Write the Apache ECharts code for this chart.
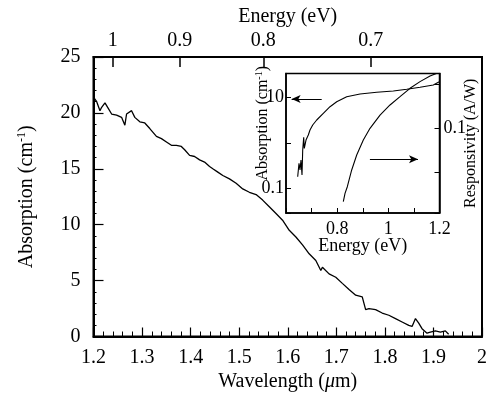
<!DOCTYPE html>
<html>
<head>
<meta charset="utf-8">
<script src="https://cdn.jsdelivr.net/npm/echarts@6/dist/echarts.min.js"></script>
<style>html,body{margin:0;padding:0;background:#fff}#c{width:490px;height:403px}</style>
</head>
<body>
<div id="c"></div>
<script>
// Main chart: absorption vs wavelength
const wavelength = [
  1.2, 1.2066, 1.2133, 1.2168, 1.2236, 1.2304, 1.2373, 1.2476, 1.2578, 1.2646,
  1.2681, 1.2784, 1.2851, 1.2954, 1.3056, 1.3159, 1.3296, 1.3399, 1.3502, 1.3604,
  1.3707, 1.3809, 1.3877, 1.3979, 1.4082, 1.4185, 1.4287, 1.439, 1.4457, 1.456,
  1.4663, 1.48, 1.4937, 1.5073, 1.521, 1.5348, 1.5483, 1.562, 1.5758, 1.5893,
  1.6031, 1.6168, 1.6304, 1.6441, 1.6578, 1.6681, 1.6714, 1.6851, 1.6989, 1.7124,
  1.7262, 1.7399, 1.7534, 1.7604, 1.7672, 1.7809, 1.7945, 1.8082, 1.8219, 1.8355,
  1.8492, 1.856, 1.863, 1.8697, 1.8765, 1.8868, 1.8937, 1.904, 1.9143, 1.9245,
  1.9313
];
const absorption = [
  21.4, 21.0, 20.2, 20.5, 20.9, 20.4, 19.9, 19.8, 19.6, 18.9,
  19.9, 20.2, 19.6, 19.2, 19.1, 18.6, 17.9, 17.7, 17.4, 17.1,
  17.1, 17.0, 16.7, 16.2, 16.1, 15.8, 15.6, 15.2, 15.0, 14.7,
  14.4, 14.1, 13.7, 13.2, 12.9, 12.7, 12.2, 11.6, 11.0, 10.4,
  9.5, 8.9, 8.2, 7.4, 6.8, 5.9, 6.2, 5.6, 5.3, 4.75,
  4.2, 3.7, 3.55, 2.4, 2.5, 2.4, 2.1, 1.9, 1.6, 1.3,
  1.0, 0.9, 1.6, 1.2, 0.7, 0.3, 0.4, 0.5, 0.4, 0.5,
  0.2
];
// Top axis tick labels (photon energy, eV); hc = 1.2398 eV·µm
const energyTicks = [1, 0.9, 0.8, 0.7];
const HC = 1.2398;

// Inset: absorption vs energy (left log axis)
const insetEnergyA = [0.6457, 0.6508, 0.6547, 0.6586, 0.6626, 0.6653, 0.6692, 0.6715, 0.6782, 0.6872,
  0.6938, 0.7044, 0.72, 0.7458, 0.772, 0.7982, 0.8373, 0.8893, 0.9546, 1.0195,
  1.0719, 1.1239, 1.1759, 1.1954, 1.2];
const insetAbs = [0.18, 0.356, 0.253, 0.422, 0.197, 0.70, 1.34, 0.76, 1.16, 1.50,
  1.94, 2.50, 3.22, 4.53, 6.33, 8.16, 10.5, 12.1, 13.2, 14.1,
  15.3, 17.0, 19.1, 21.9, 22.5];
// Inset: responsivity vs energy (right log axis)
const insetEnergyR = [0.824, 0.8307, 0.8397, 0.8568, 0.8764, 0.9022, 0.9284, 0.9675, 1.0066, 1.0457,
  1.0848, 1.1239, 1.163, 1.1954];
const responsivity = [0.00215, 0.00333, 0.00471, 0.0113, 0.0247, 0.0542, 0.1, 0.2, 0.339, 0.523,
  0.811, 1.15, 1.55, 1.84];
const insetLeftLabels = [10, 0.1];
const insetRightLabels = [0.1];
// Arrow annotations (data coordinates): [fromEnergy, toEnergy, value]
const arrowAbs = [0.7396, 0.622, 9.36];
const arrowResp = [0.928, 1.116, 0.0197];

const FONT = 'Liberation Serif';
const black = '#000';

function near(v, list) {
  return list.some(t => Math.abs(v - t) / t < 1e-6);
}

const chart = echarts.init(document.getElementById('c'), null, {renderer: 'canvas'});
const option = {
  animation: false,
  backgroundColor: '#fff',
  textStyle: {fontFamily: FONT, color: black},
  grid: [
    {left: 93.5, top: 57, right: 6.5, bottom: 66.5, show: true, borderColor: black, borderWidth: 2},
    {left: 286, top: 73.5, width: 153.5, height: 139.5, show: true, borderColor: black, borderWidth: 1.5, backgroundColor: '#fff'}
  ],
  xAxis: [
    {
      gridIndex: 0, type: 'value', position: 'bottom', min: 1.2, max: 2, interval: 0.1,
      axisLine: {show: true, onZero: false, lineStyle: {color: black, width: 2}},
      axisTick: {show: true, inside: true, length: 9, lineStyle: {color: black, width: 1.2}},
      minorTick: {show: true, splitNumber: 5, length: 5, lineStyle: {color: black, width: 1}},
      axisLabel: {margin: 11, fontSize: 20, fontFamily: FONT, color: black},
      splitLine: {show: false},
      name: '{a|Wavelength (}{m|μ}{a|m)}', nameLocation: 'middle', nameGap: 35, nameMoveOverlap: false,
      nameTextStyle: {rich: {
        a: {fontSize: 20, fontFamily: FONT, color: black},
        m: {fontSize: 20, fontFamily: FONT, fontStyle: 'italic', color: black}
      }}
    },
    {
      gridIndex: 0, type: 'value', position: 'top', min: 1.2, max: 2,
      axisLine: {show: true, onZero: false, lineStyle: {color: black, width: 2}},
      axisTick: {show: true, inside: true, length: 10, customValues: energyTicks.map(e => HC / e), lineStyle: {color: black, width: 1.5}},
      axisLabel: {show: true, margin: 6, fontSize: 20, fontFamily: FONT, color: black,
        customValues: energyTicks.map(e => HC / e),
        formatter: v => String(+(HC / v).toFixed(2))},
      splitLine: {show: false},
      name: 'Energy (eV)', nameLocation: 'middle', nameGap: 30, nameMoveOverlap: false,
      nameTextStyle: {fontSize: 20, fontFamily: FONT, color: black}
    },
    {
      gridIndex: 1, type: 'value', position: 'bottom', min: 0.6, max: 1.2, interval: 0.2,
      axisLine: {show: true, onZero: false, lineStyle: {color: black, width: 1.5}},
      axisTick: {show: true, inside: true, length: 5, lineStyle: {color: black, width: 1}},
      minorTick: {show: true, splitNumber: 2, length: 5, lineStyle: {color: black, width: 1}},
      axisLabel: {margin: 7, fontSize: 18, fontFamily: FONT, color: black, showMinLabel: false, showMaxLabel: true},
      splitLine: {show: false},
      name: 'Energy (eV)', nameLocation: 'middle', nameGap: 24, nameMoveOverlap: false,
      nameTextStyle: {fontSize: 18, fontFamily: FONT, color: black}
    }
  ],
  yAxis: [
    {
      gridIndex: 0, type: 'value', position: 'left', min: 0, max: 25, interval: 5,
      axisLine: {show: true, onZero: false, lineStyle: {color: black, width: 2}},
      axisTick: {show: true, inside: true, length: 10, lineStyle: {color: black, width: 1.2}},
      minorTick: {show: true, splitNumber: 5, length: 3, lineStyle: {color: black, width: 1}},
      axisLabel: {margin: 13, fontSize: 20, fontFamily: FONT, color: black},
      splitLine: {show: false},
      name: '{a|Absorption (cm}{s|-1}{a|)}', nameLocation: 'middle', nameGap: 56, nameRotate: 90, nameMoveOverlap: false,
      nameTextStyle: {rich: {
        a: {fontSize: 20, fontFamily: FONT, color: black},
        s: {fontSize: 12, fontFamily: FONT, color: black, padding: [0, 0, 10, 0]}
      }}
    },
    {
      gridIndex: 1, type: 'log', position: 'left', min: 0.0285, max: 34.2, logBase: 10,
      axisLine: {show: true, onZero: false, lineStyle: {color: black, width: 1.5}},
      axisTick: {show: true, inside: true, length: 5, lineStyle: {color: black, width: 1}},
      axisLabel: {margin: 2, fontSize: 18, fontFamily: FONT, color: black,
        formatter: v => near(v, insetLeftLabels) ? String(+v.toPrecision(3)) : ''},
      splitLine: {show: false},
      name: '{g|}{a|Absorption (cm}{s|-1}{a|)}', nameLocation: 'middle', nameGap: 14, nameRotate: 90, nameMoveOverlap: false,
      nameTextStyle: {rich: {
        g: {width: 40, fontSize: 16},
        a: {fontSize: 16, fontFamily: FONT, color: black},
        s: {fontSize: 10, fontFamily: FONT, color: black, padding: [0, 0, 8, 0]}
      }}
    },
    {
      gridIndex: 1, type: 'log', position: 'right', min: 0.00119, max: 1.76, logBase: 10,
      axisLine: {show: true, onZero: false, lineStyle: {color: black, width: 1.5}},
      axisTick: {show: true, inside: true, length: 5, lineStyle: {color: black, width: 1}},
      axisLabel: {margin: 4, fontSize: 18, fontFamily: FONT, color: black,
        formatter: v => near(v, insetRightLabels) ? String(+v.toPrecision(3)) : ''},
      splitLine: {show: false},
      name: 'Responsivity (A/W)', nameLocation: 'middle', nameGap: 23, nameRotate: 90, nameMoveOverlap: false,
      nameTextStyle: {fontSize: 16, fontFamily: FONT, color: black}
    }
  ],
  series: [
    {
      type: 'line', xAxisIndex: 0, yAxisIndex: 0, symbol: 'none', silent: true,
      data: wavelength.map((w, i) => [w, absorption[i]]),
      lineStyle: {color: black, width: 1.3}
    },
    {
      type: 'line', xAxisIndex: 2, yAxisIndex: 1, symbol: 'none', silent: true,
      data: insetEnergyA.map((e, i) => [e, insetAbs[i]]),
      lineStyle: {color: black, width: 1.1},
      markLine: {
        silent: true, symbol: ['none', 'arrow'], symbolSize: [6, 9], label: {show: false},
        lineStyle: {color: black, width: 1, type: 'solid'},
        data: [[{coord: [arrowAbs[0], arrowAbs[2]]}, {coord: [arrowAbs[1], arrowAbs[2]]}]]
      }
    },
    {
      type: 'line', xAxisIndex: 2, yAxisIndex: 2, symbol: 'none', silent: true,
      data: insetEnergyR.map((e, i) => [e, responsivity[i]]),
      lineStyle: {color: black, width: 1.1},
      markLine: {
        silent: true, symbol: ['none', 'arrow'], symbolSize: [6, 9], label: {show: false},
        lineStyle: {color: black, width: 1, type: 'solid'},
        data: [[{coord: [arrowResp[0], arrowResp[2]]}, {coord: [arrowResp[1], arrowResp[2]]}]]
      }
    }
  ]
};
chart.setOption(option);
</script>
</body>
</html>
